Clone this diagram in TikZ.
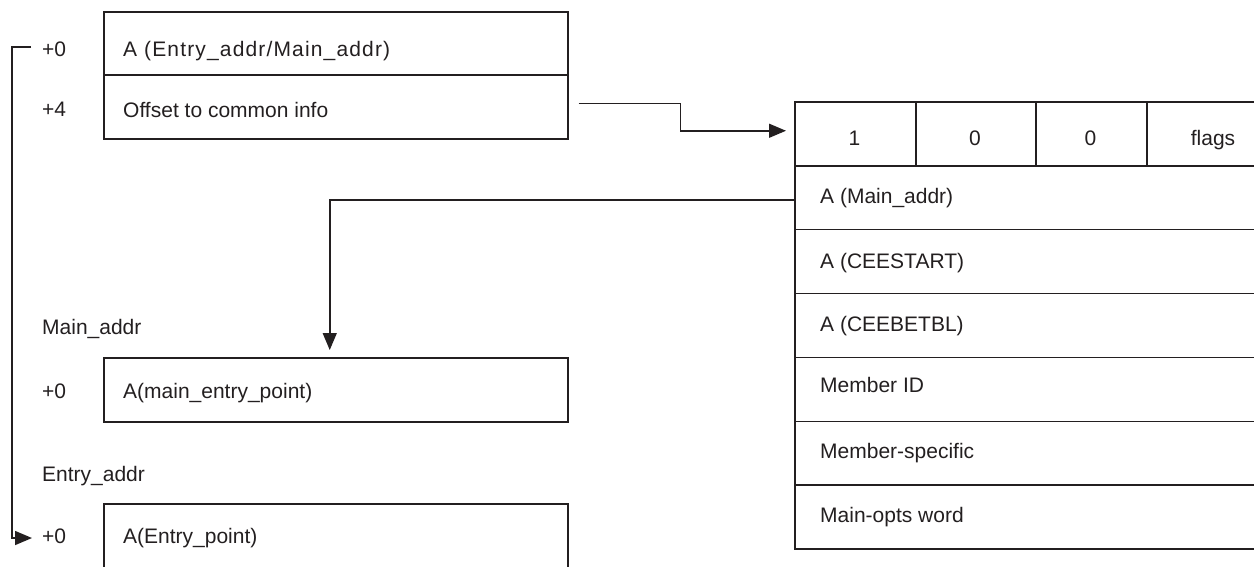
\documentclass[tikz,border=0pt]{standalone}
\usepackage{fontspec}
\setmainfont{Liberation Sans}
\usetikzlibrary{arrows.meta}
\definecolor{ink}{HTML}{231F20}
\begin{document}
\begin{tikzpicture}[x=1pt,y=-1pt,
  cell/.style={draw=ink, line width=1.5pt, inner sep=0pt, anchor=north west},
  lbl/.style={inner sep=0pt, anchor=base west, text=ink, font=\fontsize{21}{25}\selectfont},
  clbl/.style={inner sep=0pt, anchor=base, text=ink, font=\fontsize{21}{25}\selectfont},
  arr/.style={draw=ink, line width=1.5pt, -{Triangle[length=17pt,width=14pt]}}]
\useasboundingbox (0,0) rectangle (1254,566);
\clip (0,0) rectangle (1254,566);
% left boxes
\node[cell, minimum width=464pt, minimum height=63pt] (t1) at (103,11) {};
\node[cell, minimum width=464pt, minimum height=64pt] (t2) at (103,74) {};
\node[cell, minimum width=464pt, minimum height=64pt] (b2) at (103,357) {};
\node[cell, minimum width=464pt, minimum height=64pt] (b3) at (103,503) {};
% left texts
\node[lbl] (o1) at (42,56) {+0};
\node[lbl] (o2) at (42,116) {+4};
\node[lbl] (x1) at (123,56) {\addfontfeature{LetterSpace=5.5}A (Entry\_addr/Main\_addr)};
\node[lbl] (x2) at (123,117) {Offset to common info};
\node[lbl] (ma) at (42,334) {Main\_addr};
\node[lbl] (o3) at (42,398) {+0};
\node[lbl] (x3) at (123,398) {A(main\_entry\_point)};
\node[lbl] (ea) at (42,481) {Entry\_addr};
\node[lbl] (o4) at (42,543) {+0};
\node[lbl] (x4) at (123,543) {A(Entry\_point)};
% right table header
\node[cell, minimum width=121pt, minimum height=64pt] (h1) at (794,101) {};
\node[cell, minimum width=120pt, minimum height=64pt] (h2) at (915,101) {};
\node[cell, minimum width=111pt, minimum height=64pt] (h3) at (1035,101) {};
\node[cell, minimum width=134pt, minimum height=64pt] (h4) at (1146,101) {};
\node[clbl] (hx1) at (854.5,145) {1};
\node[clbl] (hx2) at (975,145) {0};
\node[clbl] (hx3) at (1090.5,145) {0};
\node[clbl] (hx4) at (1213,145) {flags};
% right table rows
\node[cell, minimum width=486pt, minimum height=63.9pt] (m1) at (794,164.9) {};
\node[cell, minimum width=486pt, minimum height=63.9pt] (m2) at (794,228.8) {};
\node[cell, minimum width=486pt, minimum height=63.9pt] (m3) at (794,292.7) {};
\node[cell, minimum width=486pt, minimum height=63.9pt] (m4) at (794,356.6) {};
\node[cell, minimum width=486pt, minimum height=63.9pt] (m5) at (794,420.5) {};
\node[cell, minimum width=486pt, minimum height=63.9pt] (m6) at (794,484.4) {};
\node[lbl] (mx1) at (820,203.4) {A (Main\_addr)};
\node[lbl] (mx2) at (820,268) {A (CEESTART)};
\node[lbl] (mx3) at (820,331) {A (CEEBETBL)};
\node[lbl] (mx4) at (820,392) {Member ID};
\node[lbl] (mx5) at (820,458) {Member-specific};
\node[lbl] (mx6) at (820,522.5) {Main-opts word};
% connectors
\draw[arr] ([xshift=10pt,yshift=3.5pt]t2.east) -- ++(102,0) |- ([xshift=-8pt,yshift=3pt]h1.west);
\draw[arr] ([yshift=-2.5pt]m1.west) -| ([xshift=-6pt,yshift=7pt]b2.north);
\coordinate (bs) at (31,47);
\coordinate (be) at (32,538);
\draw[arr] (bs) -- (12,47) |- (be);
\end{tikzpicture}
\end{document}
